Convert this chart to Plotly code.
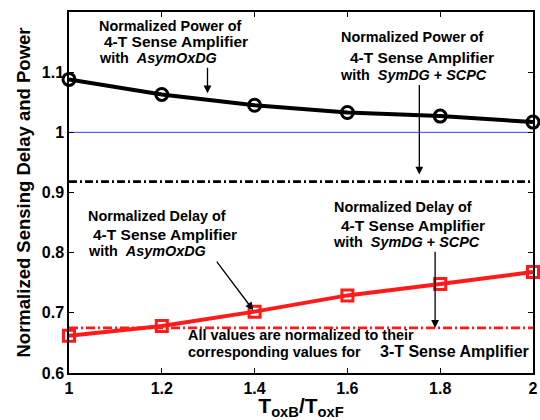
import plotly.graph_objects as go

ratio = [1.0, 1.2, 1.4, 1.6, 1.8, 2.0]
power_asym = [1.088, 1.063, 1.045, 1.033, 1.027, 1.017]
delay_asym = [0.662, 0.678, 0.702, 0.729, 0.748, 0.768]
power_sym = 0.918
delay_sym = 0.675
baseline = 1.0
xticks = [1.0, 1.2, 1.4, 1.6, 1.8, 2.0]
xticklabels = ["1", "1.2", "1.4", "1.6", "1.8", "2"]
yticks = [0.6, 0.7, 0.8, 0.9, 1.0, 1.1]
yticklabels = ["0.6", "0.7", "0.8", "0.9", "1", "1.1"]

FONT = "Liberation Sans, Arial, sans-serif"

fig = go.Figure()
fig.add_trace(go.Scatter(x=[1, 2], y=[baseline, baseline], mode="lines",
                         line=dict(color="#3a3aff", width=1), showlegend=False))
fig.add_trace(go.Scatter(x=[1, 2], y=[power_sym, power_sym], mode="lines",
                         line=dict(color="black", width=2.8, dash="8px,3px,2px,3px"), showlegend=False))
fig.add_trace(go.Scatter(x=[1, 2], y=[delay_sym, delay_sym], mode="lines",
                         line=dict(color="#ff1a1a", width=2.8, dash="9px,3px,2px,3px"), showlegend=False))
fig.add_trace(go.Scatter(x=ratio, y=power_asym, mode="lines+markers",
                         line=dict(color="black", width=4),
                         marker=dict(symbol="circle-open", size=12, color="black", line=dict(width=3)),
                         cliponaxis=False, showlegend=False))
fig.add_trace(go.Scatter(x=ratio, y=delay_asym, mode="lines+markers",
                         line=dict(color="#ff1a1a", width=4),
                         marker=dict(symbol="square-open", size=11, color="#ff1a1a", line=dict(width=3)),
                         cliponaxis=False, showlegend=False))

def txt(x, y, s, size=14.4, anchor="left"):
    return dict(x=x, y=y, xref="x", yref="y", text="<b>" + s + "</b>", showarrow=False,
                xanchor=anchor, yanchor="middle", font=dict(family=FONT, size=size, color="black"))

SA = "4-T Sense Amplifier"
anns = [
    txt(1.060, 1.176, "Normalized Power of"),
    txt(1.071, 1.151, SA, 15.5),
    txt(1.060, 1.124, "with  <i>AsymOxDG</i>"),
    txt(1.582, 1.158, "Normalized Power of"),
    txt(1.601, 1.125, SA, 15.5),
    txt(1.580, 1.095, "with  <i>SymDG</i> + <i>SCPC</i>"),
    txt(1.036, 0.8606, "Normalized Delay of"),
    txt(1.047, 0.8307, SA, 15.5),
    txt(1.036, 0.8025, "with  <i>AsymOxDG</i>"),
    txt(1.567, 0.8755, "Normalized Delay of"),
    txt(1.582, 0.8456, SA, 15.5),
    txt(1.565, 0.8174, "with  <i>SymDG</i> + <i>SCPC</i>"),
    txt(1.2516, 0.663, "All values are normalized to their"),
    txt(1.2516, 0.635, "corresponding values for"),
    txt(1.996, 0.635, "3-T Sense Amplifier", 16, "right"),
]

def arrow(x0, y0, x1, y1):
    return dict(x=x1, y=y1, ax=x0, ay=y0, xref="x", yref="y", axref="x", ayref="y",
                text="", showarrow=True, arrowhead=2, arrowsize=1.2, arrowwidth=1.3,
                arrowcolor="black", standoff=0)

anns += [
    arrow(1.2985, 1.110, 1.2985, 1.065),
    arrow(1.755, 1.081, 1.755, 0.930),
    arrow(1.316, 0.7875, 1.397, 0.7045),
    arrow(1.789, 0.804, 1.789, 0.675),
]

fig.update_layout(
    width=540, height=420,
    margin=dict(l=69, r=2, t=12, b=47),
    paper_bgcolor="white", plot_bgcolor="white",
    font=dict(family=FONT, color="black"),
    annotations=anns,
    xaxis=dict(range=[1, 2], tickvals=xticks, ticktext=["<b>%s</b>" % t for t in xticklabels],
               ticks="inside", ticklen=5, tickwidth=1, tickcolor="black", mirror="ticks",
               showline=True, linecolor="black", linewidth=1.5, showgrid=False, zeroline=False,
               ticklabeloverflow="allow",
               tickfont=dict(size=16, family=FONT),
               title=dict(text="<b>T<sub>oxB</sub>/T<sub>oxF</sub></b>", font=dict(size=21, family=FONT), standoff=0)),
    yaxis=dict(range=[0.6, 1.2], tickvals=yticks, ticktext=["<b>%s</b>" % t for t in yticklabels],
               ticks="inside", ticklen=5, tickwidth=1, tickcolor="black", mirror="ticks",
               showline=True, linecolor="black", linewidth=1.5, showgrid=False, zeroline=False,
               ticklabeloverflow="allow",
               tickfont=dict(size=16, family=FONT),
               title=dict(text="<b>Normalized Sensing Delay and Power</b>", font=dict(size=18.5, family=FONT), standoff=6)),
)

fig.write_html("out.html")
